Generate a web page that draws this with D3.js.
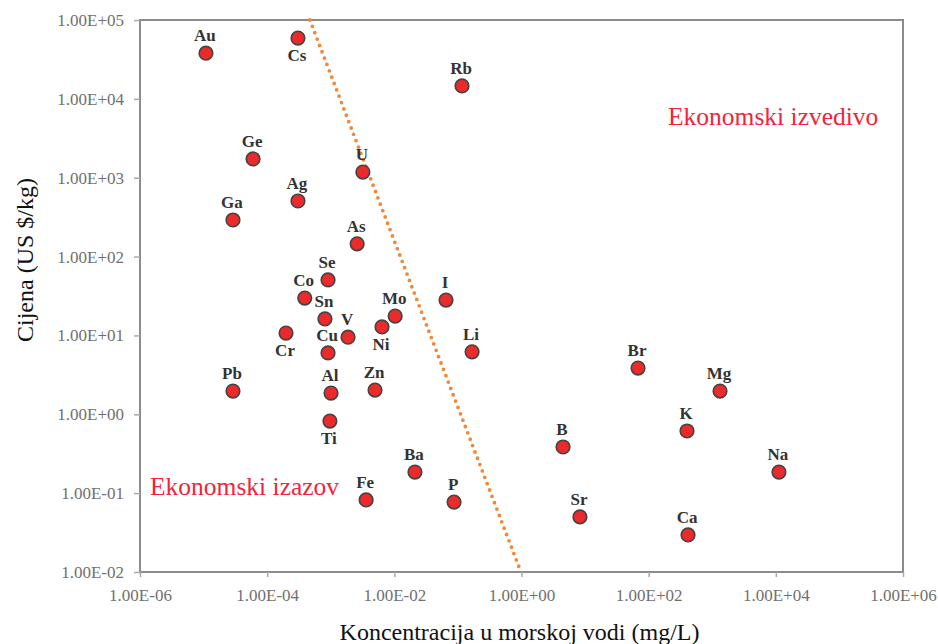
<!DOCTYPE html>
<html>
<head>
<meta charset="utf-8">
<script src="https://cdn.jsdelivr.net/npm/d3@7"></script>
<style>
  body { margin: 0; background: #fff; }
  #chart svg { display: block; }
  .tick-label { font-family: "Liberation Serif", "Times New Roman", serif; font-size: 17px; fill: #707070; }
  .axis-title { font-family: "Liberation Serif", "Times New Roman", serif; font-size: 24px; fill: #111; }
  .pt-label { font-family: "Liberation Serif", "Times New Roman", serif; font-size: 17px; font-weight: bold; fill: #333; }
  .zone { font-family: "Liberation Serif", "Times New Roman", serif; font-size: 25.5px; fill: #f5223a; }
</style>
</head>
<body>
<div id="chart"></div>
<script>
// Element names, concentration in seawater (mg/L) and price (US $/kg)
const elements = ["Au", "Cs", "Rb", "Ge", "Ag", "Ga", "U", "As", "Se", "Co", "Sn", "Cr", "V", "Cu", "Mo", "Ni",
  "I", "Li", "Pb", "Al", "Zn", "Ti", "Br", "Mg", "K", "B", "Na", "Ba", "Fe", "P", "Sr", "Ca"];
const concentration = [1.09e-5, 3.05e-4, 0.116, 6.0e-5, 3.05e-4, 2.9e-5, 3.2e-3, 2.6e-3, 9.06e-4, 3.9e-4, 8.1e-4, 1.98e-4, 1.87e-3, 9.06e-4, 0.0103, 6.4e-3,
  0.065, 0.167, 2.9e-5, 1.01e-3, 4.97e-3, 9.7e-4, 68, 1325, 401, 4.5, 1.12e4, 0.0211, 3.6e-3, 0.087, 8.3, 416];
const price = [3.8e4, 5.9e4, 1.46e4, 1730, 507, 291, 1180, 145, 50.5, 29.8, 16.2, 10.7, 9.5, 6.0, 17.6, 12.8,
  28.1, 6.2, 1.97, 1.86, 2.03, 0.82, 3.86, 1.97, 0.614, 0.385, 0.185, 0.185, 0.082, 0.077, 0.050, 0.0295];
// labels drawn under the point instead of above
const labelBelow = ["Cs", "Cr", "Ni", "Ti"];

const xTicks = [1e-6, 1e-4, 1e-2, 1e0, 1e2, 1e4, 1e6];
const yTicks = [1e-2, 1e-1, 1e0, 1e1, 1e2, 1e3, 1e4, 1e5];

// dividing line (concentration, price)
const lineX = [4.7e-4, 0.98];
const lineY = [1e5, 1e-2];

const w = 938, h = 644;
const plotLeft = 140, plotRight = 903, plotTop = 20, plotBottom = 572;

const x = d3.scaleLog().domain([1e-6, 1e6]).range([plotLeft, plotRight]);
const y = d3.scaleLog().domain([1e-2, 1e5]).range([plotBottom, plotTop]);

const fmt = v => v.toExponential(2).toUpperCase().replace(/E([+-])(\d)$/, "E$10$2");

const svg = d3.select("#chart").append("svg")
  .attr("width", w)
  .attr("height", h);

// frame
svg.append("rect")
  .attr("x", plotLeft).attr("y", plotTop)
  .attr("width", plotRight - plotLeft).attr("height", plotBottom - plotTop)
  .attr("fill", "none")
  .attr("stroke", "#8c8c8c")
  .attr("stroke-width", 2);

// axes
const xAxis = d3.axisBottom(x).tickValues(xTicks).tickFormat(fmt).tickSize(5).tickPadding(12);
const yAxis = d3.axisLeft(y).tickValues(yTicks).tickFormat(fmt).tickSize(6).tickPadding(10);

const gx = svg.append("g").attr("transform", `translate(0,${plotBottom})`).call(xAxis);
const gy = svg.append("g").attr("transform", `translate(${plotLeft},0)`).call(yAxis);
[gx, gy].forEach(g => {
  g.select(".domain").remove();
  g.attr("font-family", null).attr("font-size", null);
  g.selectAll(".tick line").attr("stroke", "#aaa").attr("stroke-width", 1.5);
  g.selectAll(".tick text").attr("class", "tick-label").attr("fill", null);
});

// axis titles
svg.append("text")
  .attr("class", "axis-title")
  .attr("x", (plotLeft + plotRight) / 2 - 2)
  .attr("y", 640)
  .attr("text-anchor", "middle")
  .text("Koncentracija u morskoj vodi (mg/L)");

svg.append("text")
  .attr("class", "axis-title")
  .attr("transform", "translate(33,260) rotate(-90)")
  .attr("text-anchor", "middle")
  .text("Cijena (US $/kg)");

// dotted boundary line
svg.append("line")
  .attr("x1", x(lineX[0])).attr("y1", y(lineY[0]))
  .attr("x2", x(lineX[1])).attr("y2", y(lineY[1]))
  .attr("stroke", "#f0883a")
  .attr("stroke-width", 3.8)
  .attr("stroke-linecap", "round")
  .attr("stroke-dasharray", "0 6.8");

// zone labels
svg.append("text").attr("class", "zone").attr("x", 668).attr("y", 125).text("Ekonomski izvedivo");
svg.append("text").attr("class", "zone").attr("x", 150).attr("y", 495).text("Ekonomski izazov");

// points
const data = elements.map((e, i) => ({ name: e, c: concentration[i], p: price[i] }));

svg.selectAll("circle.dot")
  .data(data)
  .enter()
  .append("circle")
  .attr("class", "dot")
  .attr("cx", d => x(d.c))
  .attr("cy", d => y(d.p))
  .attr("r", 6.8)
  .attr("fill", "#ec2a2a")
  .attr("stroke", "#444")
  .attr("stroke-width", 1.6);

svg.selectAll("text.pt-label")
  .data(data)
  .enter()
  .append("text")
  .attr("class", "pt-label")
  .attr("x", d => x(d.c) - 1)
  .attr("y", d => y(d.p) + (labelBelow.includes(d.name) ? 23 : -12))
  .attr("text-anchor", "middle")
  .text(d => d.name);
</script>
</body>
</html>
